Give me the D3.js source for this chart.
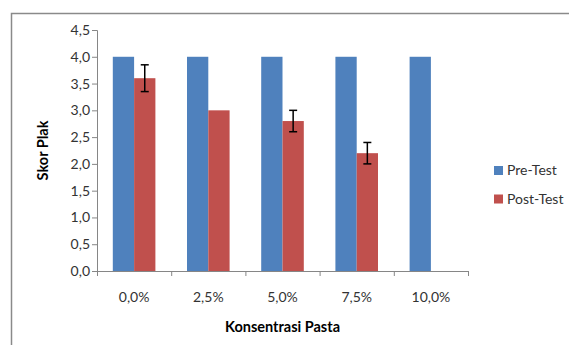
<!DOCTYPE html>
<html><head><meta charset="utf-8">
<script src="https://cdn.jsdelivr.net/npm/d3@7"></script>
<style>body{margin:0;background:#fff}svg{display:block}text{font-family:Lato,"Open Sans",sans-serif}</style>
</head><body><svg id="c" width="569" height="345"></svg>
<script>
const categories = ["0,0%","2,5%","5,0%","7,5%","10,0%"];
const seriesNames = ["Pre-Test","Post-Test"];
const preTest = [4.0,4.0,4.0,4.0,4.0];
const postTest = [3.6,3.0,2.8,2.2,0];
const postErr = [0.25,0,0.2,0.2,0];
const yTicks = [0,0.5,1,1.5,2,2.5,3,3.5,4,4.5];
const colors = ["#4F81BD","#C0504D"];

const svg = d3.select("#c");
const m = {l:97, r:468, t:30, b:271};
// outer border
svg.append("path").attr("d","M11.5,345 L11.5,13.5 L569,13.5").attr("fill","none").attr("stroke","#8a8a8a").attr("stroke-width",1.5);

const x0 = d3.scaleBand().domain(categories).range([m.l,m.r]).paddingInner(0.426).paddingOuter(0.213);
const x1 = d3.scaleBand().domain(seriesNames).range([0,x0.bandwidth()]);
const y = d3.scaleLinear().domain([0,4.5]).range([m.b,m.t]);
const fmt = v => d3.format(".1f")(v).replace(".",",");

// y axis
const ya = svg.append("g").attr("transform",`translate(${m.l},0)`)
  .call(d3.axisLeft(y).tickValues(yTicks).tickFormat(fmt).tickSize(5).tickPadding(2));
ya.select(".domain").attr("stroke","#868686");
ya.selectAll(".tick line").attr("stroke","#868686");
ya.selectAll("text").attr("font-size",14).attr("fill","#333");

// x axis
const xs = d3.scaleLinear().domain([0,5]).range([m.l,m.r]);
const xa = svg.append("g").attr("transform",`translate(0,${m.b})`)
  .call(d3.axisBottom(xs).tickValues([0,1,2,3,4,5]).tickFormat("").tickSize(5).tickSizeOuter(0));
xa.select(".domain").attr("stroke","#868686");
xa.selectAll(".tick line").attr("stroke","#868686");
svg.append("g").selectAll("text").data(categories).join("text")
  .attr("x",d=>x0(d)+x0.bandwidth()/2).attr("y",301.5).attr("text-anchor","middle")
  .attr("font-size",14).attr("fill","#333").text(d=>d);

// bars
const data = categories.map((c,i)=>({c, vals:[preTest[i],postTest[i]], err:[0,postErr[i]]}));
const g = svg.append("g");
data.forEach(d=>{
  seriesNames.forEach((s,j)=>{
    const v = d.vals[j];
    if(v<=0) return;
    g.append("rect").attr("x",x0(d.c)+x1(s)).attr("y",y(v)).attr("width",x1.bandwidth()).attr("height",y(0)-y(v))
      .attr("fill",colors[j]);
  });
  const e = d.err[1];
  if(e>0){
    const cx = x0(d.c)+x1("Post-Test")+x1.bandwidth()/2;
    const v = d.vals[1];
    const eg = g.append("g").attr("stroke","#000").attr("stroke-width",1.5);
    eg.append("line").attr("x1",cx).attr("x2",cx).attr("y1",y(v+e)).attr("y2",y(v-e));
    eg.append("line").attr("x1",cx-4).attr("x2",cx+4).attr("y1",y(v+e)).attr("y2",y(v+e));
    eg.append("line").attr("x1",cx-4).attr("x2",cx+4).attr("y1",y(v-e)).attr("y2",y(v-e));
  }
});

// axis titles
svg.append("text").attr("x",(m.l+m.r)/2).attr("y",332).attr("text-anchor","middle")
  .attr("font-size",14.5).attr("font-weight","bold").attr("fill","#000").text("Konsentrasi Pasta");
svg.append("text").attr("transform",`translate(48,${(m.t+m.b)/2}) rotate(-90)`).attr("text-anchor","middle")
  .attr("font-size",14.5).attr("font-weight","bold").attr("fill","#000").text("Skor Plak");

// legend
const lg = svg.append("g");
seriesNames.forEach((s,i)=>{
  const yy = 166 + i*28.5;
  lg.append("rect").attr("x",494).attr("y",yy).attr("width",9).attr("height",9).attr("fill",colors[i]);
  lg.append("text").attr("x",507).attr("y",yy+4.5).attr("dy","0.35em").attr("font-size",14).attr("fill","#333").text(s);
});
</script></body></html>
